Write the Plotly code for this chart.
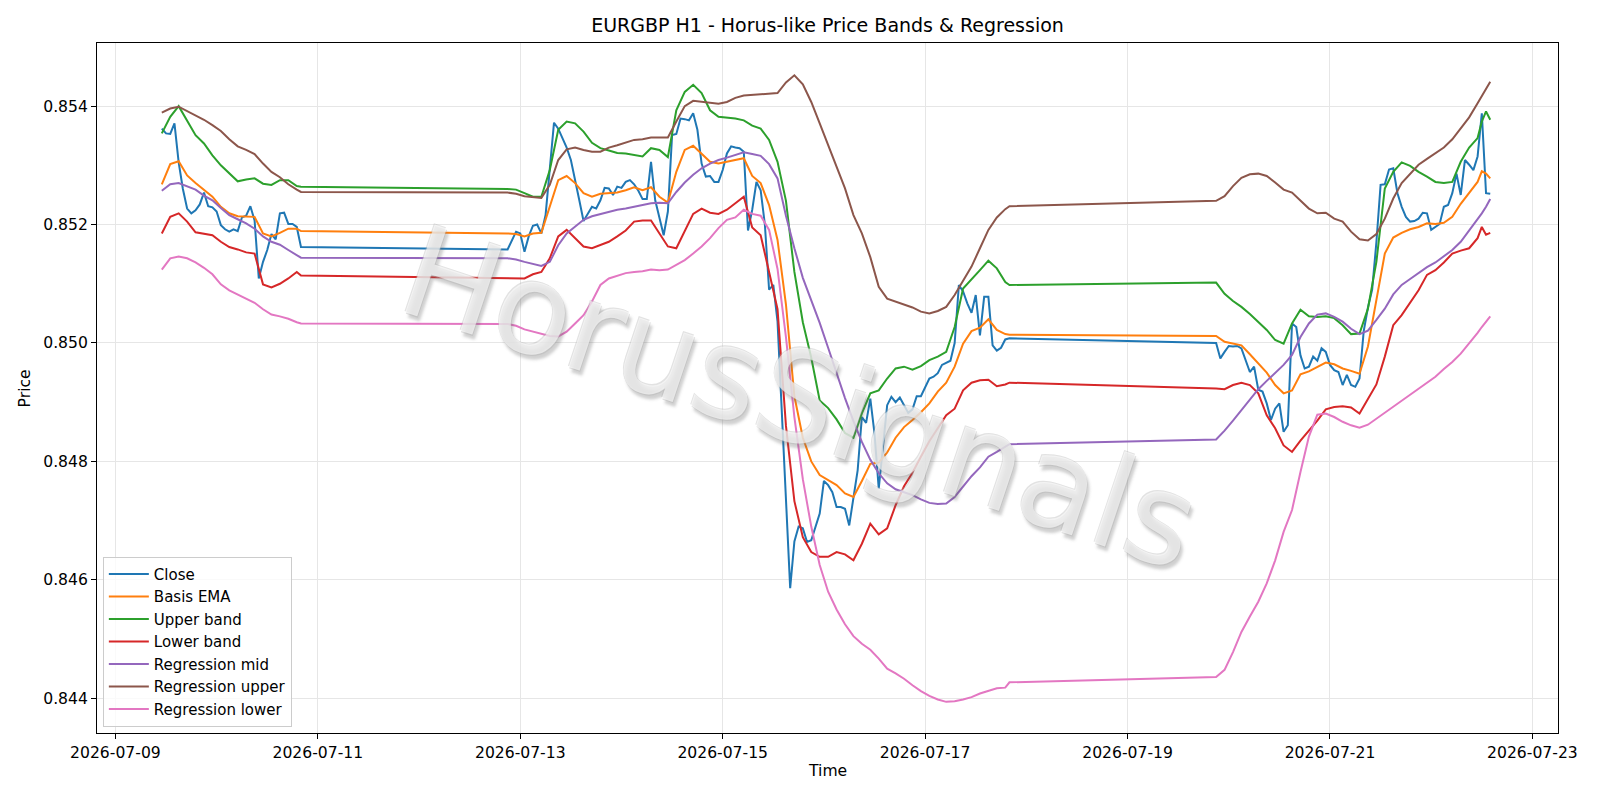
import pandas as pd
import plotly.graph_objects as go

BASE = pd.Timestamp("2026-07-09 00:00")

# Hours after 2026-07-09 00:00 for each of the three trading sessions (H1 bars)
close_hours = list(range(11, 45)) + list(range(93, 213)) + list(range(261, 327))
# Sampling hours at which the smooth band / regression curves were read
band_hours = (list(range(11, 44, 2)) + [44] + list(range(93, 212, 2)) + [212]
              + list(range(261, 324, 2)) + [324, 325, 326])

close = [
    0.85362, 0.85354, 0.85353, 0.85371, 0.85305, 0.85260, 0.85227, 0.85219, 0.85224, 0.85234,
    0.85254, 0.85231, 0.85229, 0.85222, 0.85199, 0.85192, 0.85188, 0.85192, 0.85189, 0.85212,
    0.85215, 0.85231, 0.85207, 0.85109, 0.85137, 0.85157, 0.85184, 0.85175, 0.85219, 0.85220,
    0.85201, 0.85201, 0.85196, 0.85162,
    0.85158, 0.85174, 0.85188, 0.85185, 0.85154, 0.85180, 0.85198, 0.85200, 0.85185, 0.85216,
    0.85298, 0.85372, 0.85362, 0.85346, 0.85330, 0.85309, 0.85272, 0.85241, 0.85206, 0.85218,
    0.85230, 0.85227, 0.85241, 0.85262, 0.85261, 0.85250, 0.85264, 0.85262, 0.85272, 0.85275,
    0.85268, 0.85257, 0.85243, 0.85243, 0.85306, 0.85241, 0.85209, 0.85182, 0.85222, 0.85351,
    0.85353, 0.85379, 0.85378, 0.85376, 0.85388, 0.85360, 0.85303, 0.85281, 0.85282, 0.85272,
    0.85272, 0.85292, 0.85320, 0.85332, 0.85330, 0.85329, 0.85323, 0.85190, 0.85225, 0.85272,
    0.85258, 0.85200, 0.85090, 0.85098, 0.85036, 0.84887, 0.84736, 0.84586, 0.84665, 0.84690,
    0.84687, 0.84664, 0.84667, 0.84690, 0.84712, 0.84767, 0.84760, 0.84748, 0.84723, 0.84723,
    0.84720, 0.84692, 0.84735, 0.84785, 0.84875, 0.84865, 0.84906, 0.84847, 0.84754, 0.84825,
    0.84895, 0.84909, 0.84900, 0.84908, 0.84896, 0.84882, 0.84888, 0.84910, 0.84910, 0.84925,
    0.84940, 0.84943, 0.84949, 0.84963, 0.84966, 0.84970, 0.85000, 0.85098, 0.85087, 0.85067,
    0.85051, 0.85081, 0.85013, 0.85078, 0.85078, 0.84996, 0.84987, 0.84992, 0.85006, 0.85008,
    0.85000, 0.84974, 0.84985, 0.84995, 0.84994, 0.84995, 0.84991, 0.84971, 0.84951, 0.84960,
    0.84921, 0.84918, 0.84898, 0.84870, 0.84889, 0.84898, 0.84850, 0.84861, 0.85033, 0.85027,
    0.84979, 0.84957, 0.84960, 0.84977, 0.84970, 0.84991, 0.84985, 0.84963, 0.84954, 0.84951,
    0.84929, 0.84946, 0.84929, 0.84926, 0.84940, 0.85020, 0.85060, 0.85090, 0.85170, 0.85267,
    0.85268, 0.85293, 0.85295, 0.85253, 0.85230, 0.85213, 0.85205, 0.85206, 0.85210, 0.85220,
    0.85219, 0.85191, 0.85196, 0.85201, 0.85230, 0.85233, 0.85253, 0.85286, 0.85250, 0.85309,
    0.85301, 0.85292, 0.85315, 0.85388, 0.85253, 0.85252,
]

basis_ema = [
    0.85268, 0.85302, 0.85307, 0.85283, 0.85270, 0.85259, 0.85247, 0.85230, 0.85219, 0.85214,
    0.85214, 0.85213, 0.85185, 0.85180, 0.85186, 0.85193, 0.85193, 0.85189,
    0.85185, 0.85184, 0.85180, 0.85185, 0.85186, 0.85230, 0.85275, 0.85282, 0.85270, 0.85253,
    0.85247, 0.85252, 0.85253, 0.85254, 0.85258, 0.85263, 0.85258, 0.85263, 0.85247, 0.85237,
    0.85289, 0.85326, 0.85333, 0.85320, 0.85306, 0.85303,
    0.85306, 0.85310, 0.85312, 0.85282, 0.85270, 0.85233, 0.85174, 0.85065, 0.84910, 0.84840,
    0.84800, 0.84777, 0.84768, 0.84760, 0.84746, 0.84740, 0.84767, 0.84796, 0.84798, 0.84815,
    0.84840, 0.84858, 0.84870, 0.84883, 0.84898, 0.84918, 0.84933, 0.84960, 0.84999, 0.85020,
    0.85026, 0.85040, 0.85022, 0.85015, 0.85014,
    0.85012, 0.85002, 0.84999, 0.84996, 0.84981, 0.84965, 0.84950, 0.84929, 0.84915, 0.84920,
    0.84947, 0.84952, 0.84960, 0.84967, 0.84964, 0.84957, 0.84953, 0.84948, 0.84994, 0.85073,
    0.85151, 0.85178, 0.85186, 0.85192, 0.85196, 0.85202, 0.85201, 0.85203, 0.85213, 0.85235,
    0.85254, 0.85272, 0.85290, 0.85286, 0.85278,
]

upper_band = [
    0.85354, 0.85382, 0.85400, 0.85376, 0.85351, 0.85337, 0.85317, 0.85300, 0.85286, 0.85273,
    0.85276, 0.85278, 0.85269, 0.85267, 0.85275, 0.85275, 0.85265, 0.85264,
    0.85260, 0.85259, 0.85253, 0.85247, 0.85247, 0.85292, 0.85360, 0.85374, 0.85371, 0.85357,
    0.85338, 0.85329, 0.85325, 0.85321, 0.85320, 0.85317, 0.85315, 0.85329, 0.85326, 0.85314,
    0.85393, 0.85424, 0.85436, 0.85422, 0.85393, 0.85382,
    0.85381, 0.85379, 0.85376, 0.85367, 0.85362, 0.85343, 0.85306, 0.85240, 0.85120, 0.85035,
    0.84975, 0.84903, 0.84890, 0.84871, 0.84848, 0.84840, 0.84881, 0.84915, 0.84920, 0.84940,
    0.84957, 0.84960, 0.84955, 0.84961, 0.84971, 0.84977, 0.84985, 0.85027, 0.85092, 0.85107,
    0.85123, 0.85139, 0.85126, 0.85103, 0.85098,
    0.85102, 0.85083, 0.85071, 0.85061, 0.85049, 0.85036, 0.85022, 0.85005, 0.84999, 0.85033,
    0.85056, 0.85045, 0.85044, 0.85045, 0.85042, 0.85030, 0.85015, 0.85016, 0.85058, 0.85137,
    0.85261, 0.85289, 0.85305, 0.85299, 0.85289, 0.85281, 0.85272, 0.85270, 0.85272, 0.85306,
    0.85330, 0.85346, 0.85374, 0.85391, 0.85377,
]

lower_band = [
    0.85185, 0.85213, 0.85219, 0.85205, 0.85187, 0.85184, 0.85182, 0.85171, 0.85162, 0.85158,
    0.85153, 0.85151, 0.85099, 0.85094, 0.85100, 0.85109, 0.85120, 0.85114,
    0.85109, 0.85109, 0.85109, 0.85116, 0.85120, 0.85143, 0.85180, 0.85191, 0.85177, 0.85163,
    0.85160, 0.85165, 0.85171, 0.85180, 0.85190, 0.85205, 0.85207, 0.85207, 0.85185, 0.85163,
    0.85160, 0.85188, 0.85218, 0.85227, 0.85220, 0.85218,
    0.85225, 0.85236, 0.85247, 0.85195, 0.85182, 0.85120, 0.85057, 0.84860, 0.84733, 0.84672,
    0.84647, 0.84639, 0.84639, 0.84647, 0.84643, 0.84633, 0.84661, 0.84695, 0.84677, 0.84687,
    0.84726, 0.84758, 0.84781, 0.84808, 0.84834, 0.84856, 0.84878, 0.84889, 0.84920, 0.84933,
    0.84937, 0.84938, 0.84927, 0.84930, 0.84933,
    0.84923, 0.84922, 0.84929, 0.84933, 0.84929, 0.84915, 0.84878, 0.84856, 0.84827, 0.84816,
    0.84835, 0.84852, 0.84869, 0.84888, 0.84892, 0.84893, 0.84891, 0.84881, 0.84905, 0.84930,
    0.84977, 0.85030, 0.85047, 0.85068, 0.85089, 0.85115, 0.85123, 0.85136, 0.85151, 0.85156,
    0.85160, 0.85177, 0.85196, 0.85183, 0.85186,
]

reg_mid = [
    0.85257, 0.85268, 0.85270, 0.85265, 0.85259, 0.85249, 0.85241, 0.85228, 0.85216, 0.85209,
    0.85202, 0.85193, 0.85180, 0.85171, 0.85166, 0.85157, 0.85149, 0.85144,
    0.85143, 0.85141, 0.85137, 0.85133, 0.85130, 0.85137, 0.85165, 0.85185, 0.85196, 0.85208,
    0.85214, 0.85218, 0.85222, 0.85225, 0.85227, 0.85230, 0.85233, 0.85236, 0.85237, 0.85236,
    0.85255, 0.85271, 0.85284, 0.85295, 0.85303, 0.85309,
    0.85313, 0.85317, 0.85322, 0.85319, 0.85316, 0.85302, 0.85278, 0.85215, 0.85160, 0.85110,
    0.85073, 0.85034, 0.84992, 0.84949, 0.84907, 0.84868, 0.84833, 0.84803, 0.84780, 0.84763,
    0.84753, 0.84748, 0.84743, 0.84736, 0.84730, 0.84728, 0.84729, 0.84740, 0.84757, 0.84775,
    0.84790, 0.84808, 0.84816, 0.84824, 0.84829,
    0.84837, 0.84852, 0.84869, 0.84887, 0.84905, 0.84922, 0.84936, 0.84950, 0.84963, 0.84980,
    0.85010, 0.85033, 0.85048, 0.85050, 0.85044, 0.85036, 0.85024, 0.85015, 0.85021, 0.85039,
    0.85058, 0.85082, 0.85098, 0.85108, 0.85118, 0.85128, 0.85136, 0.85146, 0.85157, 0.85171,
    0.85190, 0.85208, 0.85219, 0.85230, 0.85243,
]

reg_upper = [
    0.85389, 0.85396, 0.85399, 0.85392, 0.85385, 0.85377, 0.85368, 0.85358, 0.85344, 0.85332,
    0.85326, 0.85319, 0.85303, 0.85289, 0.85280, 0.85268, 0.85259, 0.85255,
    0.85254, 0.85252, 0.85248, 0.85246, 0.85245, 0.85267, 0.85309, 0.85327, 0.85330, 0.85326,
    0.85323, 0.85323, 0.85330, 0.85334, 0.85338, 0.85343, 0.85344, 0.85347, 0.85347, 0.85347,
    0.85374, 0.85400, 0.85409, 0.85407, 0.85406, 0.85404,
    0.85407, 0.85414, 0.85418, 0.85419, 0.85420, 0.85421, 0.85422, 0.85440, 0.85452, 0.85437,
    0.85407, 0.85371, 0.85334, 0.85295, 0.85261, 0.85216, 0.85185, 0.85145, 0.85095, 0.85075,
    0.85070, 0.85066, 0.85060, 0.85053, 0.85050, 0.85054, 0.85061, 0.85081, 0.85106, 0.85129,
    0.85160, 0.85191, 0.85212, 0.85226, 0.85231,
    0.85240, 0.85248, 0.85265, 0.85279, 0.85285, 0.85286, 0.85282, 0.85271, 0.85259, 0.85254,
    0.85241, 0.85227, 0.85219, 0.85220, 0.85210, 0.85205, 0.85188, 0.85175, 0.85173, 0.85184,
    0.85210, 0.85244, 0.85270, 0.85286, 0.85301, 0.85311, 0.85320, 0.85330, 0.85344, 0.85363,
    0.85381, 0.85405, 0.85417, 0.85430, 0.85441,
]

reg_lower = [
    0.85124, 0.85143, 0.85146, 0.85143, 0.85136, 0.85127, 0.85116, 0.85099, 0.85089, 0.85082,
    0.85076, 0.85068, 0.85057, 0.85048, 0.85045, 0.85041, 0.85035, 0.85033,
    0.85032, 0.85029, 0.85023, 0.85019, 0.85015, 0.85012, 0.85011, 0.85019, 0.85033, 0.85047,
    0.85070, 0.85098, 0.85109, 0.85113, 0.85118, 0.85120, 0.85121, 0.85124, 0.85123, 0.85124,
    0.85132, 0.85140, 0.85151, 0.85163, 0.85177, 0.85194,
    0.85208, 0.85212, 0.85225, 0.85218, 0.85215, 0.85191, 0.85125, 0.85010, 0.84875, 0.84770,
    0.84690, 0.84625, 0.84580, 0.84550, 0.84525, 0.84505, 0.84492, 0.84482, 0.84467, 0.84450,
    0.84442, 0.84433, 0.84422, 0.84412, 0.84404, 0.84398, 0.84394, 0.84395, 0.84398, 0.84402,
    0.84408, 0.84413, 0.84417, 0.84418, 0.84427,
    0.84436, 0.84448, 0.84478, 0.84512, 0.84538, 0.84563, 0.84594, 0.84633, 0.84681, 0.84718,
    0.84782, 0.84842, 0.84879, 0.84881, 0.84875, 0.84867, 0.84861, 0.84857, 0.84862, 0.84872,
    0.84883, 0.84893, 0.84903, 0.84913, 0.84923, 0.84933, 0.84943, 0.84956, 0.84968, 0.84982,
    0.84999, 0.85017, 0.85027, 0.85036, 0.85045,
]

series = [
    ("Close", close_hours, close, "#1f77b4"),
    ("Basis EMA", band_hours, basis_ema, "#ff7f0e"),
    ("Upper band", band_hours, upper_band, "#2ca02c"),
    ("Lower band", band_hours, lower_band, "#d62728"),
    ("Regression mid", band_hours, reg_mid, "#9467bd"),
    ("Regression upper", band_hours, reg_upper, "#8c564b"),
    ("Regression lower", band_hours, reg_lower, "#e377c2"),
]

FONT = "DejaVu Sans"
TICK_SIZE = 15.6
fig = go.Figure()
for name, hrs, vals, color in series:
    n = min(len(hrs), len(vals))
    x = [BASE + pd.Timedelta(hours=h) for h in hrs[:n]]
    fig.add_trace(go.Scatter(x=x, y=vals[:n], mode="lines", name=name,
                             legendgroup=name,
                             line=dict(color=color, width=2)))

axis_common = dict(showline=True, linecolor="black", linewidth=1, mirror=True,
                   ticks="outside", ticklen=5, tickwidth=1, tickcolor="black",
                   showgrid=True, gridcolor="#e6e6e6", gridwidth=1, zeroline=False,
                   tickfont=dict(family=FONT, size=TICK_SIZE, color="black"))

fig.update_layout(
    width=1600, height=800,
    margin=dict(l=97, r=42, t=43, b=67),
    paper_bgcolor="white", plot_bgcolor="white",
    font=dict(family=FONT, color="black"),
    title=dict(text="EURGBP H1 - Horus-like Price Bands & Regression",
               x=0.5, xref="paper", xanchor="center",
               y=1 - 25.5 / 800, yref="container", yanchor="middle",
               font=dict(family=FONT, size=19, color="black")),
    xaxis=dict(axis_common, type="date",
               range=["2026-07-08 19:38", "2026-07-23 06:04"],
               tick0="2026-07-09", dtick=2 * 86400000, tickformat="%Y-%m-%d"),
    yaxis=dict(axis_common, range=[0.843414, 0.855066],
               tick0=0.844, dtick=0.002, tickformat=".3f"),
    showlegend=True,
    legend=dict(x=0.004, y=0.009, xanchor="left", yanchor="bottom",
                bgcolor="rgba(255,255,255,0.8)", bordercolor="#cccccc", borderwidth=1,
                font=dict(family=FONT, size=15, color="black"),
                tracegroupgap=0, itemwidth=40),
    annotations=[
        dict(text="Time", x=0.5, xref="paper", y=-0.055, yref="paper",
             xanchor="center", yanchor="middle", showarrow=False,
             font=dict(family=FONT, size=TICK_SIZE, color="black")),
        dict(text="Price", x=-0.049, xref="paper", y=0.5, yref="paper",
             xanchor="center", yanchor="middle", showarrow=False, textangle=-90,
             font=dict(family=FONT, size=TICK_SIZE, color="black")),
        dict(text="HorusSignals", x=(800 - 97) / 1461, xref="paper",
             y=(402 - 67) / 690, yref="paper", xanchor="center", yanchor="middle",
             showarrow=False, textangle=18.5,
             font=dict(family=FONT, size=127, color="rgba(255,255,255,0.6)",
                       shadow="-1px -1px 0px rgba(175,175,175,0.6), 1px 1px 0px rgba(175,175,175,0.6), 4px 4px 3px rgba(100,100,100,0.5)")),
    ],
)

fig.write_html("out.html")
